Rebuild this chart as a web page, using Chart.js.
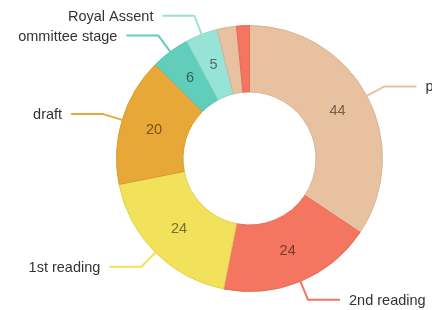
<!DOCTYPE html>
<html>
<head>
<meta charset="utf-8">
<script src="https://cdn.jsdelivr.net/npm/chart.js@4/dist/chart.umd.min.js"></script>
<style>
  html, body { margin: 0; padding: 0; background: #ffffff; }
  #wrap { width: 432px; height: 310px; }
</style>
</head>
<body>
<div id="wrap"><canvas id="c" width="432" height="310"></canvas></div>
<script>
const categories = ["proposed", "2nd reading", "1st reading", "draft", "Committee stage", "Royal Assent", "report stage", "3rd reading"];
const values = [44, 24, 24, 20, 6, 5, 3, 2];
const colors = ["#e8c1a0", "#f47560", "#f1e15b", "#e8a838", "#61cdbb", "#97e3d5", "#e8c1a0", "#f47560"];
const showLabel = [true, true, true, true, true, true, false, false];

function darker(hex, k) {
  const f = Math.pow(0.7, k);
  const r = parseInt(hex.slice(1, 3), 16), g = parseInt(hex.slice(3, 5), 16), b = parseInt(hex.slice(5, 7), 16);
  return "rgb(" + Math.round(r * f) + "," + Math.round(g * f) + "," + Math.round(b * f) + ")";
}

const labelPlugin = {
  id: "arcLabels",
  afterDatasetsDraw(chart) {
    const ctx = chart.ctx;
    const meta = chart.getDatasetMeta(0);
    ctx.save();
    // the label layer is bounded on the left (as in the original view)
    ctx.beginPath();
    ctx.rect(19, 0, chart.width - 19, chart.height);
    ctx.clip();
    meta.data.forEach((arc, i) => {
      if (!showLabel[i]) return;
      const p = arc.getProps(["x", "y", "startAngle", "endAngle", "outerRadius", "innerRadius"], true);
      const mid = (p.startAngle + p.endAngle) / 2;
      const cos = Math.cos(mid), sin = Math.sin(mid);
      const rm = (p.outerRadius + p.innerRadius) / 2;
      ctx.font = "14.5px 'Liberation Sans', Arial, sans-serif";
      ctx.fillStyle = darker(colors[i], 2);
      ctx.textAlign = "center";
      ctx.textBaseline = "middle";
      ctx.fillText(String(values[i]), p.x + cos * rm, p.y + sin * rm);
      const x0 = p.x + cos * p.outerRadius, y0 = p.y + sin * p.outerRadius;
      const diag = 20, straight = 32, off = 9;
      const x1 = p.x + cos * (p.outerRadius + diag), y1 = p.y + sin * (p.outerRadius + diag);
      const dir = cos >= 0 ? 1 : -1;
      const x2 = x1 + dir * straight;
      ctx.strokeStyle = colors[i];
      ctx.lineWidth = 2;
      ctx.lineJoin = "round";
      ctx.beginPath();
      ctx.moveTo(x0, y0);
      ctx.lineTo(x1, y1);
      ctx.lineTo(x2, y1);
      ctx.stroke();
      ctx.font = "14.5px 'Liberation Sans', Arial, sans-serif";
      ctx.fillStyle = "#333333";
      ctx.textAlign = dir > 0 ? "left" : "right";
      ctx.fillText(categories[i], x2 + dir * off, y1 + 1);
    });
    ctx.restore();
  }
};

new Chart(document.getElementById("c"), {
  type: "doughnut",
  data: {
    labels: categories,
    datasets: [{
      data: values,
      backgroundColor: colors,
      borderColor: colors.map(c => darker(c, 0.2)),
      borderWidth: 1
    }]
  },
  options: {
    responsive: false,
    animation: false,
    cutout: "50%",
    layout: { padding: { top: 25, bottom: 18, left: 116, right: 49 } },
    plugins: { legend: { display: false }, tooltip: { enabled: false } }
  },
  plugins: [labelPlugin]
});
</script>
</body>
</html>
